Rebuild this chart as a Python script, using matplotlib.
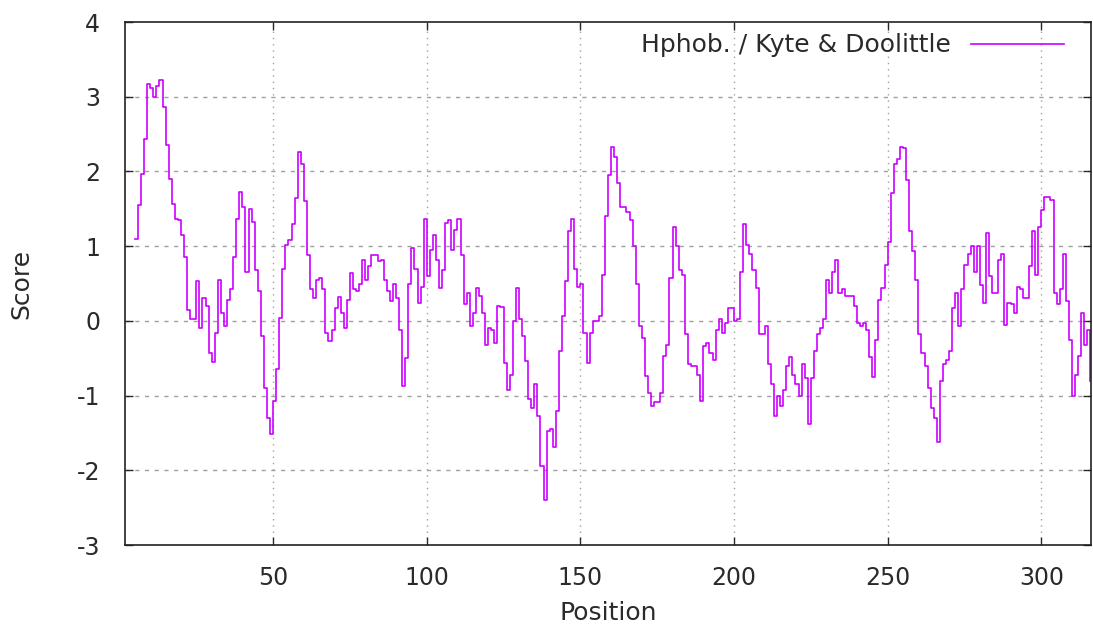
import numpy as np
import matplotlib
matplotlib.use("Agg")
import matplotlib.pyplot as plt

# Kyte & Doolittle hydrophobicity, window centred on residue
first_pos = 5
scores = [
    1.1, 1.55, 1.97, 2.43, 3.17, 3.12, 3.0, 3.15, 3.22, 2.86,      # 5-14
    2.35, 1.9, 1.57, 1.36, 1.35, 1.15, 0.86, 0.15, 0.03, 0.03,     # 15-24
    0.54, -0.1, 0.3, 0.2, -0.43, -0.55, -0.16, 0.55, 0.1, -0.07,   # 25-34
    0.28, 0.43, 0.86, 1.37, 1.72, 1.53, 0.65, 1.5, 1.33, 0.68,     # 35-44
    0.4, -0.2, -0.9, -1.3, -1.52, -1.07, -0.65, 0.04, 0.7, 1.02,   # 45-54
    1.08, 1.3, 1.65, 2.26, 2.1, 1.6, 0.88, 0.42, 0.3, 0.55,        # 55-64
    0.57, 0.42, -0.16, -0.27, -0.12, 0.17, 0.32, 0.1, -0.1, 0.28,  # 65-74
    0.64, 0.42, 0.4, 0.5, 0.82, 0.55, 0.73, 0.88, 0.88, 0.8,       # 75-84
    0.82, 0.55, 0.4, 0.26, 0.5, 0.31, -0.12, -0.87, -0.5, 0.5,     # 85-94
    0.97, 0.7, 0.24, 0.46, 1.37, 0.6, 0.95, 1.15, 0.82, 0.44,      # 95-104
    0.68, 1.31, 1.35, 0.95, 1.22, 1.37, 0.88, 0.22, 0.37, -0.07,   # 105-114
    0.1, 0.44, 0.33, 0.1, -0.32, -0.1, -0.12, -0.3, 0.2, 0.19,     # 115-124
    -0.56, -0.92, -0.72, 0.0, 0.44, 0.02, -0.2, -0.54, -1.05, -1.16,   # 125-134
    -0.85, -1.27, -1.94, -2.4, -1.47, -1.45, -1.69, -1.2, -0.4, 0.06,  # 135-144
    0.53, 1.2, 1.37, 0.7, 0.46, 0.5, -0.16, -0.56, -0.16, 0.0,     # 145-154
    0.0, 0.06, 0.62, 1.4, 1.95, 2.33, 2.2, 1.84, 1.53, 1.53,       # 155-164
    1.46, 1.35, 1.0, 0.5, -0.07, -0.23, -0.74, -0.96, -1.14, -1.08,    # 165-174
    -1.08, -0.96, -0.47, -0.32, 0.57, 1.26, 1.0, 0.68, 0.62, -0.18,    # 175-184
    -0.58, -0.6, -0.6, -0.72, -1.07, -0.34, -0.29, -0.43, -0.52, -0.12,  # 185-194
    0.02, -0.16, -0.03, 0.17, 0.17, 0.0, 0.02, 0.66, 1.3, 1.02,    # 195-204
    0.9, 0.68, 0.44, -0.18, -0.18, -0.07, -0.58, -0.85, -1.27, -1.0,   # 205-214
    -1.14, -0.92, -0.6, -0.49, -0.72, -0.85, -1.0, -0.58, -0.76, -1.38,  # 215-224
    -0.76, -0.4, -0.18, -0.1, 0.02, 0.55, 0.37, 0.66, 0.82, 0.37,  # 225-234
    0.42, 0.33, 0.33, 0.33, 0.2, -0.03, -0.07, -0.03, -0.12, -0.49,    # 235-244
    -0.75, -0.25, 0.28, 0.44, 0.75, 1.06, 1.71, 2.1, 2.17, 2.33,   # 245-254
    2.32, 1.88, 1.2, 0.93, 0.55, -0.18, -0.43, -0.6, -0.9, -1.16,  # 255-264
    -1.3, -1.62, -0.8, -0.58, -0.52, -0.4, 0.17, 0.37, -0.07, 0.42,    # 265-274
    0.75, 0.9, 1.0, 0.66, 1.0, 0.48, 0.24, 1.17, 0.6, 0.37,        # 275-284
    0.37, 0.82, 0.9, -0.05, 0.24, 0.22, 0.1, 0.46, 0.42, 0.3,      # 285-294
    0.3, 0.73, 1.2, 0.62, 1.26, 1.48, 1.66, 1.66, 1.62, 0.37,      # 295-304
    0.22, 0.42, 0.9, 0.26, -0.25, -1.0, -0.72, -0.47, 0.1, -0.32,  # 305-314
    -0.12, -0.8,                                                   # 315-316
]
positions = np.arange(first_pos, first_pos + len(scores))

x_ticks = [50, 100, 150, 200, 250, 300]
y_ticks = [-3, -2, -1, 0, 1, 2, 3, 4]


def hphob_plot():
    plt.rcParams['font.family'] = ['DejaVu Sans']
    plt.rcParams['axes.unicode_minus'] = False
    fig = plt.figure(figsize=(10.93, 6.24), dpi=100)
    ax = fig.add_axes([0.1144, 0.1266, 0.8838, 0.8381])

    ax.plot(positions, scores, drawstyle='steps-post', color='#cc00ff',
            linewidth=1.2, label='Hphob. / Kyte & Doolittle')

    ax.set_xlim(1.8, 316.2)
    ax.set_ylim(-3, 4)
    ax.set_xticks(x_ticks)
    ax.set_yticks(y_ticks)
    ax.tick_params(direction='in', length=6, width=1, top=True, right=True,
                   labelsize=17, colors='#2a2a2a')
    ax.tick_params(axis='x', pad=15)
    ax.tick_params(axis='y', pad=18)

    # gnuplot style grid: dashed horizontals, dotted verticals
    for y in y_ticks[1:-1]:
        ax.axhline(y, color='#a0a0a0', linestyle=(0, (3, 4)), linewidth=1, zorder=0)
    for x in x_ticks:
        ax.axvline(x, color='#a0a0a0', linestyle=(0, (1, 3.5)), linewidth=1, zorder=0)

    for s in ax.spines.values():
        s.set_linewidth(1.2)
        s.set_color('#222222')

    ax.set_xlabel('Position', fontsize=18, color='#2a2a2a', labelpad=8)
    ax.set_ylabel('Score', fontsize=18, color='#2a2a2a', labelpad=31)
    ax.legend(loc='upper right', frameon=False, markerfirst=False, fontsize=18,
              handlelength=3.7, borderaxespad=0.3, bbox_to_anchor=(0.99, 1.012),
              labelcolor='#2a2a2a')

    fig.savefig('out.png', dpi=100)


if __name__ == '__main__':
    hphob_plot()
